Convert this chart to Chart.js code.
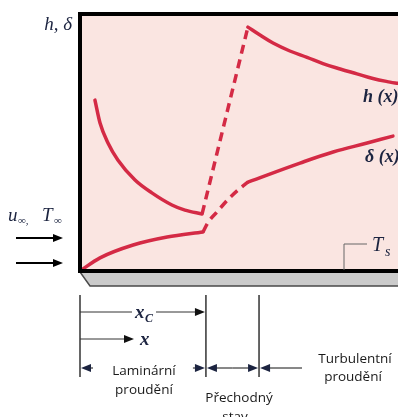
<!DOCTYPE html>
<html>
<head>
<meta charset="utf-8">
<script src="https://cdn.jsdelivr.net/npm/chart.js@4"></script>
<style>
  body { margin: 0; background: #fff; }
  canvas { display: block; }
</style>
</head>
<body>
<canvas id="chart" width="398" height="417"></canvas>
<script>
// h(x): laminar, transition (dashed), turbulent
const hLamX = [0.47, 0.63, 0.88, 1.19, 1.73, 2.26, 2.89, 3.30, 3.84];
const hLamY = [6.65, 5.76, 4.98, 4.32, 3.54, 3.04, 2.57, 2.37, 2.22];
const hTransX = [3.84, 5.28];
const hTransY = [2.22, 9.49];
const hTurbX = [5.28, 5.66, 6.07, 6.60, 7.14, 7.64, 8.18, 8.71, 9.21, 9.75, 10];
const hTurbY = [9.49, 9.18, 8.87, 8.56, 8.31, 8.07, 7.86, 7.67, 7.49, 7.35, 7.30];

// delta(x): laminar, transition (dashed), turbulent
const dLamX = [0, 0.63, 1.67, 2.74, 3.87];
const dLamY = [0, 0.51, 1.01, 1.32, 1.52];
const dTransX = [3.87, 4.03, 4.31, 4.65, 4.97, 5.28];
const dTransY = [1.52, 1.90, 2.30, 2.78, 3.15, 3.46];
const dTurbX = [5.28, 6.92, 7.96, 9.03, 9.84];
const dTurbY = [3.46, 4.20, 4.63, 4.98, 5.25];

// region boundaries along the plate
const xCrit = 3.96;
const xTurb = 5.63;

const RED = '#d42a45';
const INK = '#1c2440';

function pts(xs, ys) {
    return xs.map((x, i) => ({ x: x, y: ys[i] }));
}

function seg(xs, ys, dashed, smooth) {
    const ds = {
        data: pts(xs, ys),
        showLine: true,
        borderColor: RED,
        borderWidth: 3.5,
        borderDash: dashed ? [9, 6] : [],
        borderCapStyle: dashed ? 'butt' : 'round',
        pointRadius: 0,
        fill: false
    };
    if (smooth) ds.tension = 0.4;
    else ds.cubicInterpolationMode = 'monotone';
    return ds;
}

function txt(ctx, s, x, y, font, color, align) {
    ctx.font = font;
    ctx.fillStyle = color || '#222';
    ctx.textAlign = align || 'left';
    ctx.textBaseline = 'alphabetic';
    ctx.fillText(s, x, y);
}

function arrow(ctx, x1, y1, x2, y2) {
    const a = Math.atan2(y2 - y1, x2 - x1);
    ctx.beginPath();
    ctx.moveTo(x1, y1);
    ctx.lineTo(x2 - 8 * Math.cos(a), y2 - 8 * Math.sin(a));
    ctx.stroke();
    ctx.beginPath();
    ctx.moveTo(x2, y2);
    ctx.lineTo(x2 - 10 * Math.cos(a) + 4 * Math.sin(a), y2 - 10 * Math.sin(a) - 4 * Math.cos(a));
    ctx.lineTo(x2 - 10 * Math.cos(a) - 4 * Math.sin(a), y2 - 10 * Math.sin(a) + 4 * Math.cos(a));
    ctx.closePath();
    ctx.fill();
}

function line(ctx, x1, y1, x2, y2) {
    ctx.beginPath();
    ctx.moveTo(x1, y1);
    ctx.lineTo(x2, y2);
    ctx.stroke();
}

const background = {
    id: 'background',
    beforeDatasetsDraw(chart) {
        const { ctx, chartArea: a } = chart;
        ctx.save();
        ctx.fillStyle = '#fae5e1';
        ctx.fillRect(a.left, a.top, a.right - a.left, a.bottom - a.top);
        ctx.restore();
    }
};

const sketch = {
    id: 'sketch',
    afterDatasetsDraw(chart) {
        const { ctx, chartArea: a, scales } = chart;
        const X = v => scales.x.getPixelForValue(v);
        ctx.save();

        // plate under the surface
        ctx.fillStyle = '#cbcbcb';
        ctx.strokeStyle = '#4a4a4a';
        ctx.lineWidth = 1.5;
        ctx.beginPath();
        ctx.moveTo(a.left, a.bottom + 1);
        ctx.lineTo(a.right + 2, a.bottom + 1);
        ctx.lineTo(a.right + 2, a.bottom + 15);
        ctx.lineTo(a.left + 10, a.bottom + 15);
        ctx.closePath();
        ctx.fill();
        ctx.stroke();

        // frame: left, top, bottom
        ctx.strokeStyle = '#000';
        ctx.lineWidth = 4;
        ctx.lineCap = 'square';
        ctx.beginPath();
        ctx.moveTo(a.right + 2, a.top);
        ctx.lineTo(a.left, a.top);
        ctx.lineTo(a.left, a.bottom);
        ctx.lineTo(a.right + 2, a.bottom);
        ctx.stroke();
        ctx.lineCap = 'butt';

        // T_s leader
        ctx.strokeStyle = '#666';
        ctx.lineWidth = 1;
        ctx.beginPath();
        ctx.moveTo(344, a.bottom - 1);
        ctx.lineTo(344, 244);
        ctx.lineTo(367, 244);
        ctx.stroke();
        txt(ctx, 'T', 372, 251, 'italic 20px "Liberation Serif"', INK);
        txt(ctx, 's', 385, 256, 'italic 14px "Liberation Serif"', INK);

        // axis & curve labels
        txt(ctx, 'h, δ', 72, 30, 'italic 19px "Liberation Serif"', INK, 'right');
        txt(ctx, 'h (x)', 363, 102, 'italic bold 18px "Liberation Serif"', INK);
        txt(ctx, 'δ (x)', 365, 162, 'italic bold 18px "Liberation Serif"', INK);

        // free stream
        txt(ctx, 'u', 8, 221, 'italic 19px "Liberation Serif"', INK);
        txt(ctx, '∞,', 18, 224, '11px "Liberation Serif"', INK);
        txt(ctx, 'T', 42, 221, 'italic 19px "Liberation Serif"', INK);
        txt(ctx, '∞', 54, 224, '11px "Liberation Serif"', INK);
        ctx.strokeStyle = '#000';
        ctx.fillStyle = '#000';
        ctx.lineWidth = 2;
        arrow(ctx, 16, 238, 63, 238);
        arrow(ctx, 16, 263, 63, 263);

        // dimension lines below the plate
        const x0 = X(0), xc = X(xCrit), xt = X(xTurb);
        ctx.strokeStyle = '#333';
        ctx.fillStyle = '#111';
        ctx.lineWidth = 1.5;
        line(ctx, x0, 295, x0, 377);
        line(ctx, xc, 295, xc, 377);
        line(ctx, xt, 295, xt, 377);
        ctx.lineWidth = 1;
        line(ctx, x0, 312, 132, 312);
        arrow(ctx, 156, 312, xc - 1, 312);
        arrow(ctx, x0, 339, 134, 339);
        txt(ctx, 'x', 135, 318, 'italic bold 19px "Liberation Serif"', INK);
        txt(ctx, 'C', 145, 322, 'italic bold 12px "Liberation Serif"', INK);
        txt(ctx, 'x', 140, 345, 'italic bold 19px "Liberation Serif"', INK);

        ctx.strokeStyle = '#111';
        arrow(ctx, x0 + 13, 368, x0 + 1, 368);
        arrow(ctx, xc - 13, 368, xc - 1, 368);
        arrow(ctx, (xc + xt) / 2, 368, xc + 1, 368);
        arrow(ctx, (xc + xt) / 2, 368, xt - 1, 368);
        arrow(ctx, 302, 368, xt + 1, 368);

        const lab = '13.5px "Open Sans"';
        const col = '#1a1a1a';
        txt(ctx, 'Laminární', (x0 + xc) / 2 + 1, 375, lab, col, 'center');
        txt(ctx, 'proudění', (x0 + xc) / 2 + 1, 394, lab, col, 'center');
        txt(ctx, 'Přechodný', 239, 402, lab, col, 'center');
        txt(ctx, 'stav', 235, 421, lab, col, 'center');
        txt(ctx, 'Turbulentní', 355, 363, lab, col, 'center');
        txt(ctx, 'proudění', 353, 381, lab, col, 'center');

        ctx.restore();
    }
};

new Chart(document.getElementById('chart').getContext('2d'), {
    type: 'scatter',
    data: {
        datasets: [
            seg(hLamX, hLamY, false, false),
            seg(hTransX, hTransY, true, false),
            seg(hTurbX, hTurbY, false, true),
            seg(dLamX, dLamY, false, false),
            seg(dTransX, dTransY, true, false),
            seg(dTurbX, dTurbY, false, true)
        ]
    },
    options: {
        responsive: false,
        animation: false,
        layout: { padding: { left: 80, top: 14, right: 0, bottom: 146 } },
        scales: {
            x: { type: 'linear', min: 0, max: 10, display: false },
            y: { type: 'linear', min: 0, max: 10, display: false }
        },
        plugins: {
            legend: { display: false },
            tooltip: { enabled: false }
        }
    },
    plugins: [background, sketch]
});
</script>
</body>
</html>
